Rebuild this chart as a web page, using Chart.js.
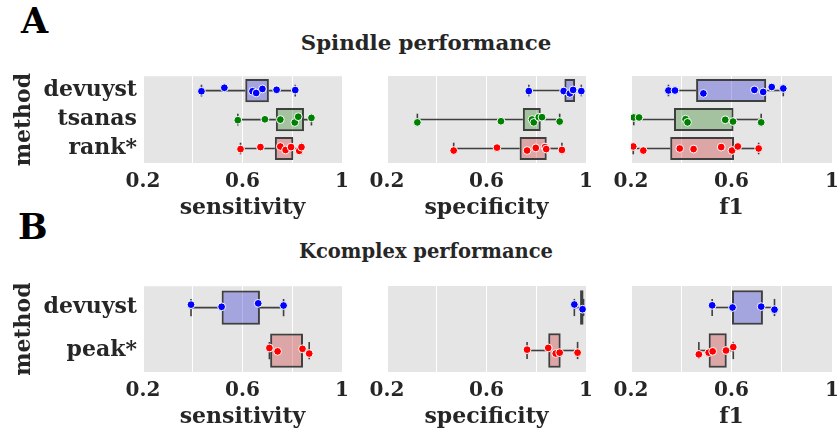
<!DOCTYPE html>
<html lang="en">
<head>
  <meta charset="UTF-8">
  <title>Spindle / Kcomplex performance</title>
  <script src="https://cdn.jsdelivr.net/npm/chart.js"></script>
  <style>
   body { margin:0; width:840px; height:434px; overflow:hidden; background:#fff; position:relative;
          font-family:'DejaVu Serif', serif; font-weight:bold; }
   canvas { position:absolute; }
   .lbl { position:absolute; font-size:35px; line-height:1; color:#000; }
   .ttl { position:absolute; left:6px; width:840px; text-align:center; color:#262626; }
  </style>
</head>
<body>
  <div class="lbl" style="left:21px; top:3px;">A</div>
  <div class="ttl" style="top:30px; font-size:21.3px;">Spindle performance</div>
  <div class="lbl" style="left:18px; top:209px;">B</div>
  <div class="ttl" style="top:240px; font-size:19.5px;">Kcomplex performance</div>

  <!-- canvas top = plot top - 19 (room the y ticks ask for) -->
  <canvas id="spSens" width="356" height="166" style="left:0px; top:57px;"></canvas>
  <canvas id="spSpec" width="238" height="166" style="left:362px; top:57px;"></canvas>
  <canvas id="spF1"   width="240" height="166" style="left:606px; top:57px;"></canvas>
  <canvas id="kcSens" width="356" height="165" style="left:0px; top:267px;"></canvas>
  <canvas id="kcSpec" width="238" height="165" style="left:362px; top:267px;"></canvas>
  <canvas id="kcF1"   width="240" height="165" style="left:606px; top:267px;"></canvas>

  <script>
    const spindleMethods  = ['devuyst', 'tsanas', 'rank*'];
    const kcomplexMethods = ['devuyst', 'peak*'];
    const xTickLabels = ['0.2', '0.6', '1'];

    // box per method: [whisker low, q1, q3, whisker high]
    const spSensBox = [[0.435, 0.611, 0.706, 0.812], [0.581, 0.734, 0.847, 0.877], [0.592, 0.730, 0.804, 0.837]];
    const spSensPts = [[0.435, 0.527, 0.640, 0.655, 0.680, 0.737, 0.812],
                       [0.581, 0.690, 0.752, 0.810, 0.824, 0.877],
                       [0.592, 0.672, 0.752, 0.773, 0.795, 0.828, 0.837]];
    const spSensJit = [[0.02, -0.1, 0.02, 0.08, -0.06, -0.03, -0.02],
                       [0.02, -0.01, 0, 0.1, -0.1, -0.06],
                       [0.02, -0.05, -0.07, 0.05, -0.05, 0.08, -0.05]];

    const spSpecBox = [[0.770, 0.913, 0.956, 0.981], [0.322, 0.746, 0.818, 0.894], [0.468, 0.733, 0.842, 0.903]];
    const spSpecPts = [[0.770, 0.910, 0.935, 0.948, 0.981],
                       [0.322, 0.658, 0.783, 0.790, 0.810, 0.823, 0.894],
                       [0.468, 0.642, 0.763, 0.798, 0.835, 0.840, 0.903]];
    const spSpecJit = [[0.02, 0.02, 0.1, -0.02, 0.02],
                       [0.1, 0.06, 0, 0.1, -0.08, -0.08, 0.07],
                       [0.07, -0.03, 0.07, -0.02, -0.05, 0.02, 0.05]];

    const spF1Box = [[0.349, 0.459, 0.738, 0.806], [0.211, 0.371, 0.608, 0.718], [0.209, 0.356, 0.610, 0.708]];
    const spF1Pts = [[0.349, 0.375, 0.488, 0.691, 0.726, 0.760, 0.806],
                     [0.211, 0.232, 0.417, 0.425, 0.575, 0.606, 0.718],
                     [0.209, 0.249, 0.394, 0.449, 0.559, 0.602, 0.625, 0.708]];
    const spF1Jit = [[0, 0, 0.1, -0.02, 0.05, -0.12, -0.07],
                     [-0.07, -0.07, -0.01, 0.1, 0.01, 0.07, 0.1],
                     [-0.07, 0.07, 0, 0.02, -0.05, 0.07, -0.07, 0]];

    const kcSensBox = [[0.393, 0.516, 0.670, 0.765], [0.708, 0.711, 0.843, 0.868]];
    const kcSensPts = [[0.393, 0.516, 0.663, 0.765], [0.708, 0.741, 0.841, 0.868]];
    const kcSensJit = [[-0.07, -0.02, -0.1, -0.05], [-0.06, 0.02, -0.04, 0.07]];

    const kcSpecBox = [[0.953, 0.976, 0.990, 0.990], [0.763, 0.848, 0.898, 0.966]];
    const kcSpecPts = [[0.953, 0.986], [0.763, 0.848, 0.878, 0.894, 0.966]];
    const kcSpecJit = [[-0.07, 0.04], [-0.02, -0.06, 0.07, 0.05, 0.05]];

    const kcF1Box = [[0.523, 0.602, 0.725, 0.771], [0.470, 0.509, 0.581, 0.607]];
    const kcF1Pts = [[0.523, 0.604, 0.718, 0.771], [0.470, 0.509, 0.525, 0.578, 0.607]];
    const kcF1Jit = [[-0.05, 0, -0.02, 0.05], [0.09, 0.05, 0.02, 0, -0.08]];

    // styling
    const boxFill = { 'devuyst': 'rgba(50,50,212,0.36)', 'tsanas': 'rgba(49,134,40,0.36)',
                      'rank*': 'rgba(209,55,55,0.36)', 'peak*': 'rgba(209,55,55,0.36)' };
    const dotColor = { 'devuyst': '#0000ff', 'tsanas': '#008000', 'rank*': '#ff0000', 'peak*': '#ff0000' };
    const edge = '#3f3f3f', txt = '#262626';

    Chart.defaults.font.family = "'DejaVu Serif', serif";
    Chart.defaults.font.weight = 'bold';

    const panelBg = { id: 'panelBg', beforeDraw(chart) {
      const a = chart.chartArea, ctx = chart.ctx;
      ctx.save(); ctx.fillStyle = '#e5e5e5'; ctx.fillRect(a.left, a.top, a.right - a.left, a.bottom - a.top); ctx.restore();
    } };

    function panel(id, cats, box, pts, jit, xTitle, first, capR) {
      const ds = [];
      ds.push({ type: 'bar', data: box.map((b, i) => ({ x: [b[1], b[2]], y: i })),
                backgroundColor: cats.map(c => boxFill[c]), borderColor: edge, borderWidth: 2,
                borderSkipped: false, barPercentage: 0.8, categoryPercentage: 1, grouped: false, order: 1 });
      box.forEach((b, i) => {
        [[b[0], b[1]], [b[2], b[3]]].forEach(seg => {
          ds.push({ type: 'line', data: seg.map(v => ({ x: v, y: i })), borderColor: edge,
                    borderWidth: 1.6, pointRadius: 0, order: 2 });
        });
      });
      ds.push({ type: 'scatter', data: box.flatMap((b, i) => [{ x: b[0], y: i }, { x: b[3], y: i }]),
                pointStyle: 'line', rotation: 90, pointRadius: capR, borderColor: edge, borderWidth: 1.6, order: 2 });
      pts.forEach((p, i) => {
        ds.push({ type: 'scatter', data: p.map((v, k) => ({ x: v, y: i + jit[i][k] })),
                  backgroundColor: dotColor[cats[i]], borderColor: '#fff', borderWidth: 1, pointRadius: 3.9, order: 0 });
      });

      new Chart(document.getElementById(id), {
        type: 'bar',
        data: { datasets: ds },
        plugins: [panelBg],
        options: {
          indexAxis: 'y', responsive: false, animation: false, events: [],
          layout: { padding: { left: first ? 0 : 25, right: 7, top: 19, bottom: 0 } },
          plugins: { legend: { display: false }, tooltip: { enabled: false } },
          scales: {
            x: { type: 'linear', min: 0.2, max: 1.0, position: 'bottom',
                 afterFit: s => { s.height = 60; },
                 border: { display: false },
                 grid: { color: '#ffffff', lineWidth: 1, drawTicks: false },
                 ticks: { stepSize: 0.2, autoSkip: false, maxRotation: 0, padding: 7, color: txt, font: { size: 20 },
                          callback: v => xTickLabels.find(l => Math.abs(parseFloat(l) - v) < 1e-6) || '' },
                 title: { display: true, text: xTitle, color: txt, font: { size: 22 }, padding: { top: 0, bottom: 2 } } },
            y: { type: 'linear', min: -0.5, max: cats.length - 0.5, reverse: true, position: 'left', offset: false,
                 afterFit: s => { s.width = first ? 143 : 0; },
                 afterBuildTicks: s => { s.ticks = cats.map((c, i) => ({ value: i })); },
                 grid: { display: false, offset: false, drawTicks: false }, border: { display: false },
                 ticks: { display: first, autoSkip: false, padding: 6, color: txt, font: { size: 22 }, callback: v => cats[v] },
                 title: { display: first, text: 'method', color: txt, font: { size: 22 }, padding: { top: 11, bottom: 0 } } }
          }
        }
      });
    }

    panel('spSens', spindleMethods, spSensBox, spSensPts, spSensJit, 'sensitivity', true, 5.8);
    panel('spSpec', spindleMethods, spSpecBox, spSpecPts, spSpecJit, 'specificity', false, 5.8);
    panel('spF1',   spindleMethods, spF1Box,   spF1Pts,   spF1Jit,   'f1',          false, 5.8);
    panel('kcSens', kcomplexMethods, kcSensBox, kcSensPts, kcSensJit, 'sensitivity', true, 8.6);
    panel('kcSpec', kcomplexMethods, kcSpecBox, kcSpecPts, kcSpecJit, 'specificity', false, 8.6);
    panel('kcF1',   kcomplexMethods, kcF1Box,   kcF1Pts,   kcF1Jit,   'f1',          false, 8.6);
  </script>
</body>
</html>
